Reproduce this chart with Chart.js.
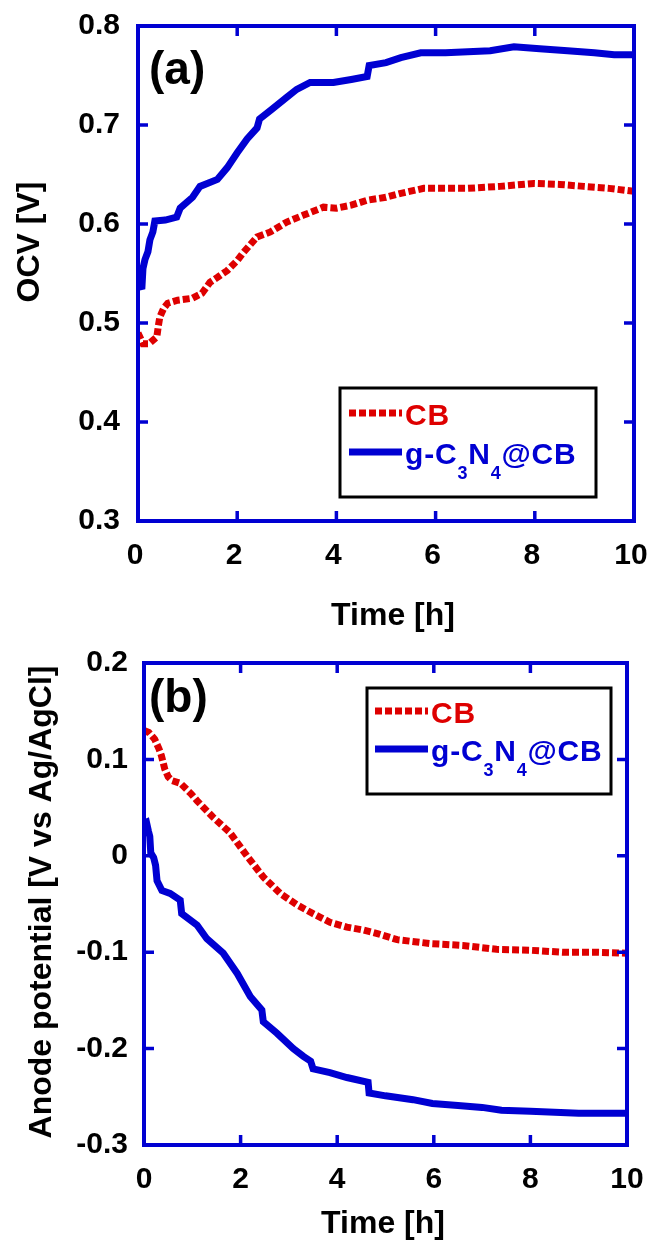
<!DOCTYPE html>
<html>
<head>
<meta charset="UTF-8">
<script src="https://cdn.jsdelivr.net/npm/chart.js@4"></script>
<style>
  body { margin: 0; background: #fff; }
  #wrap { position: relative; width: 648px; height: 1241px; }
  canvas { position: absolute; left: 0; }
  #chartA { top: 0; }
  #chartB { top: 640px; }
</style>
<title>OCV / Anode potential</title>
</head>
<body>
<div id="wrap">
  <canvas id="chartA" width="648" height="640"></canvas>
  <canvas id="chartB" width="648" height="601"></canvas>
</div>
<script>
// ---- data ----
const seriesNames = ['CB', 'g-C3N4@CB'];
const timeTicks = [0, 2, 4, 6, 8, 10];
const ocvTicks = [0.3, 0.4, 0.5, 0.6, 0.7, 0.8];
const anodeTicks = [-0.3, -0.2, -0.1, 0, 0.1, 0.2];

// (a) OCV
const timeOcvCB = [0, 0.1, 0.22, 0.38, 0.41, 0.44, 0.52, 0.6, 0.8, 1.1, 1.29, 1.45, 1.6, 1.8, 2.0, 2.12, 2.4, 2.67, 3.0, 3.34, 3.74, 4.0, 4.3, 4.62, 5.0, 5.3, 5.76, 6.2, 6.64, 7.3, 7.98, 8.5, 8.99, 9.5, 10];
const ocvCB = [0.490, 0.479, 0.479, 0.486, 0.497, 0.506, 0.515, 0.520, 0.523, 0.525, 0.530, 0.541, 0.546, 0.553, 0.563, 0.571, 0.587, 0.592, 0.602, 0.609, 0.617, 0.616, 0.619, 0.624, 0.627, 0.631, 0.636, 0.636, 0.636, 0.638, 0.641, 0.640, 0.638, 0.636, 0.633];
const timeOcvG = [0, 0.08, 0.1, 0.14, 0.2, 0.24, 0.3, 0.34, 0.55, 0.78, 0.85, 1.1, 1.25, 1.6, 1.8, 2.0, 2.2, 2.4, 2.45, 2.7, 3.0, 3.2, 3.47, 3.94, 4.3, 4.62, 4.66, 5.0, 5.3, 5.7, 6.2, 6.65, 7.1, 7.58, 8.1, 8.66, 9.2, 9.6, 10];
const ocvG = [0.536, 0.537, 0.555, 0.564, 0.572, 0.584, 0.592, 0.603, 0.604, 0.607, 0.616, 0.627, 0.638, 0.645, 0.657, 0.672, 0.686, 0.697, 0.706, 0.716, 0.728, 0.736, 0.743, 0.743, 0.746, 0.749, 0.760, 0.763, 0.768, 0.773, 0.773, 0.774, 0.775, 0.779, 0.777, 0.775, 0.773, 0.771, 0.771];

// (b) anode potential
const timeAnCB = [0, 0.1, 0.22, 0.31, 0.36, 0.43, 0.5, 0.58, 0.76, 0.98, 1.1, 1.43, 1.78, 2.13, 2.47, 2.82, 3.17, 3.5, 3.85, 4.2, 4.54, 4.85, 5.24, 5.92, 6.6, 7.3, 8.0, 8.67, 9.3, 10];
const anCB = [0.130, 0.128, 0.121, 0.111, 0.104, 0.090, 0.082, 0.078, 0.075, 0.064, 0.057, 0.040, 0.024, 0.000, -0.022, -0.039, -0.051, -0.060, -0.069, -0.074, -0.077, -0.081, -0.087, -0.091, -0.093, -0.097, -0.098, -0.100, -0.100, -0.101];
const timeAnG = [0, 0.05, 0.09, 0.12, 0.14, 0.2, 0.24, 0.27, 0.37, 0.54, 0.75, 0.78, 1.1, 1.3, 1.64, 1.93, 2.2, 2.44, 2.47, 2.75, 3.09, 3.3, 3.45, 3.5, 3.85, 4.2, 4.64, 4.66, 5.0, 5.57, 5.97, 6.5, 7.0, 7.4, 8.0, 9.0, 10];
const anG = [0.034, 0.035, 0.026, 0.020, 0.003, -0.002, -0.010, -0.026, -0.036, -0.039, -0.046, -0.060, -0.072, -0.086, -0.101, -0.122, -0.146, -0.160, -0.172, -0.184, -0.200, -0.208, -0.213, -0.221, -0.225, -0.230, -0.235, -0.246, -0.249, -0.253, -0.257, -0.259, -0.261, -0.264, -0.265, -0.267, -0.267];

// ---- styling ----
const BLUE = 'rgb(0,0,210)';
const RED = 'rgb(222,0,0)';
const FONT = '"Liberation Sans", Arial, Helvetica, sans-serif';

function pts(xs, ys) { return xs.map((x, i) => ({ x: x, y: ys[i] })); }

// text with digits drawn as subscripts (g-C3N4@CB)
function drawSubText(ctx, txt, x, y, size) {
  for (const ch of txt) {
    const sub = /[0-9]/.test(ch);
    ctx.font = 'bold ' + (sub ? Math.round(size * 0.6) : size) + 'px ' + FONT;
    ctx.fillText(ch, x, sub ? y + 15 : y);
    x += ctx.measureText(ch).width + 0.8;
  }
}

const framePlugin = {
  id: 'frame',
  afterDatasetsDraw(chart, args, o) {
    const ctx = chart.ctx, a = chart.chartArea;
    const xs = chart.scales.x, ys = chart.scales.y;
    ctx.save();
    ctx.setLineDash([]);
    // box
    ctx.strokeStyle = BLUE;
    ctx.lineWidth = 4;
    ctx.strokeRect(a.left, a.top, a.right - a.left, a.bottom - a.top);
    // inward ticks on all four sides
    ctx.lineWidth = 3.5;
    ctx.beginPath();
    xs.ticks.forEach(t => {
      const p = xs.getPixelForValue(t.value);
      ctx.moveTo(p, a.bottom); ctx.lineTo(p, a.bottom - 10);
      ctx.moveTo(p, a.top); ctx.lineTo(p, a.top + 10);
    });
    ys.ticks.forEach(t => {
      const p = ys.getPixelForValue(t.value);
      ctx.moveTo(a.left, p); ctx.lineTo(a.left + 10, p);
      ctx.moveTo(a.right, p); ctx.lineTo(a.right - 10, p);
    });
    ctx.stroke();

    // legend box
    const L = o.legend;
    ctx.strokeStyle = '#000';
    ctx.lineWidth = 3;
    ctx.strokeRect(L.x, L.y, L.w, L.h);
    chart.data.datasets.forEach((ds, i) => {
      const yy = L.rows[i];
      ctx.strokeStyle = ds.borderColor;
      ctx.lineWidth = ds.borderWidth;
      ctx.setLineDash(ds.borderDash || []);
      ctx.beginPath();
      ctx.moveTo(L.sx, yy);
      ctx.lineTo(L.sx + 53, yy);
      ctx.stroke();
      ctx.setLineDash([]);
      ctx.fillStyle = ds.borderColor;
      ctx.textBaseline = 'alphabetic';
      ctx.textAlign = 'left';
      drawSubText(ctx, ds.label, L.sx + 56, yy + 12, 30);
    });

    // panel label
    ctx.fillStyle = '#000';
    ctx.font = 'bold 46px ' + FONT;
    ctx.textAlign = 'left';
    ctx.textBaseline = 'alphabetic';
    ctx.fillText(o.panel.text, o.panel.x, o.panel.y);

    // axis titles
    ctx.font = 'bold 32px ' + FONT;
    ctx.textAlign = 'center';
    ctx.fillText(o.xTitle.text, o.xTitle.x, o.xTitle.y);
    ctx.save();
    ctx.translate(o.yTitle.x, o.yTitle.y);
    ctx.rotate(-Math.PI / 2);
    ctx.fillText(o.yTitle.text, 0, 0);
    ctx.restore();
    ctx.restore();
  }
};

function makeChart(id, cfg) {
  const H = document.getElementById(id).height;
  return new Chart(document.getElementById(id), {
    type: 'line',
    data: {
      datasets: [
        { label: seriesNames[0], data: cfg.cb, borderColor: RED, borderWidth: 7, borderDash: [7, 3],
          borderCapStyle: 'butt', pointRadius: 0, tension: 0, fill: false },
        { label: seriesNames[1], data: cfg.g, borderColor: BLUE, borderWidth: 7,
          pointRadius: 0, tension: 0, fill: false }
      ]
    },
    options: {
      responsive: false,
      animation: false,
      events: [],
      layout: { autoPadding: false, padding: { top: cfg.area.top, right: 648 - cfg.area.right, left: 0, bottom: 0 } },
      plugins: {
        legend: { display: false },
        tooltip: { enabled: false },
        frame: cfg.frame
      },
      scales: {
        x: {
          type: 'linear', min: 0, max: 10,
          afterBuildTicks: s => { s.ticks = timeTicks.map(v => ({ value: v })); },
          afterFit: s => { s.height = H - cfg.area.bottom; s.paddingLeft = 0; s.paddingRight = 0; },
          grid: { display: false, drawTicks: false },
          border: { display: false },
          ticks: { color: '#000', font: { family: FONT, size: 30, weight: 'bold' }, padding: cfg.xPad,
                   labelOffset: cfg.xOff, maxRotation: 0, autoSkip: false, callback: v => String(v) }
        },
        y: {
          type: 'linear', min: cfg.yTicks[0], max: cfg.yTicks[cfg.yTicks.length - 1],
          afterBuildTicks: s => { s.ticks = cfg.yTicks.map(v => ({ value: v })); },
          afterFit: s => { s.width = cfg.area.left; s.paddingTop = 0; s.paddingBottom = 0; },
          grid: { display: false, drawTicks: false },
          border: { display: false },
          ticks: { color: '#000', font: { family: FONT, size: 30, weight: 'bold' }, padding: cfg.yPad,
                   autoSkip: false, callback: v => String(v) }
        }
      }
    },
    plugins: [framePlugin]
  });
}

makeChart('chartA', {
  cb: pts(timeOcvCB, ocvCB),
  g: pts(timeOcvG, ocvG),
  yTicks: ocvTicks,
  area: { left: 138, right: 634, top: 26, bottom: 521 },
  xPad: 17, yPad: 18, xOff: -3,
  frame: {
    legend: { x: 340, y: 388, w: 256, h: 109, rows: [413, 452], sx: 349 },
    panel: { text: '(a)', x: 149, y: 84 },
    xTitle: { text: 'Time [h]', x: 393, y: 625 },
    yTitle: { text: 'OCV [V]', x: 39, y: 242 }
  }
});

makeChart('chartB', {
  cb: pts(timeAnCB, anCB),
  g: pts(timeAnG, anG),
  yTicks: anodeTicks,
  area: { left: 144, right: 627, top: 23, bottom: 505 },
  xPad: 17, yPad: 16, xOff: 0,
  frame: {
    legend: { x: 367, y: 48, w: 244, h: 106, rows: [71, 109], sx: 375 },
    panel: { text: '(b)', x: 149, y: 72 },
    xTitle: { text: 'Time [h]', x: 383, y: 593 },
    yTitle: { text: 'Anode potential [V vs Ag/AgCl]', x: 51, y: 262 }
  }
});
</script>
</body>
</html>
